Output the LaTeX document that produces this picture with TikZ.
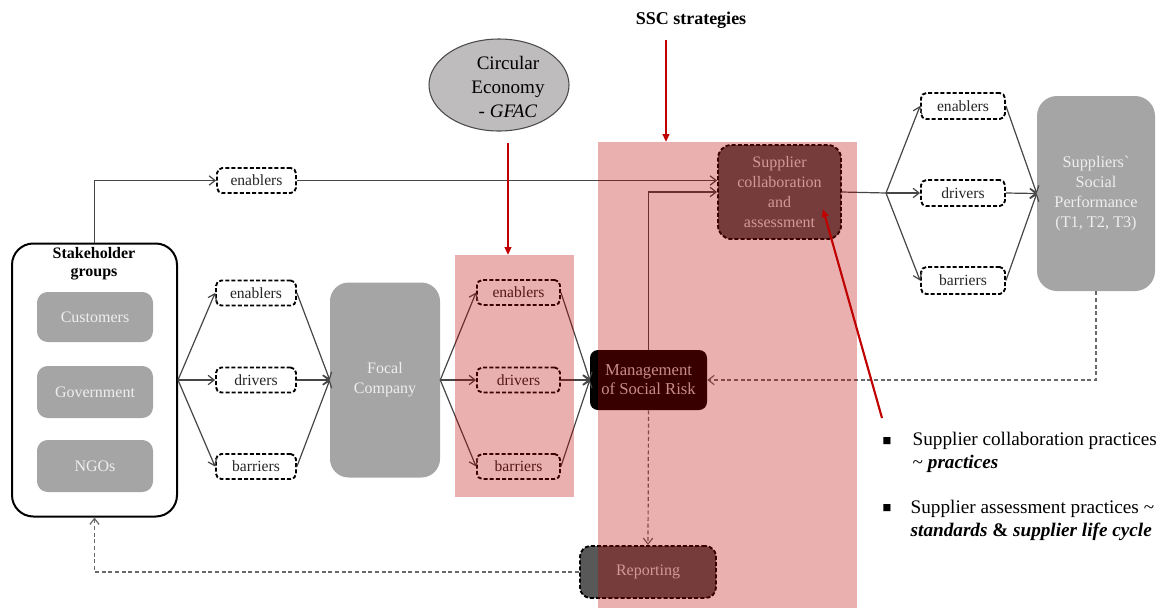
\documentclass[tikz,border=0pt]{standalone}
\usepackage{fontspec}
\setmainfont{Liberation Serif}
\newfontfamily\symfont{DejaVu Sans}
\usetikzlibrary{arrows.meta,shapes.geometric}
\definecolor{boxgray}{RGB}{165,165,165}
\definecolor{boxtext}{RGB}{238,238,238}
\definecolor{darkbox}{RGB}{88,88,88}
\definecolor{lighttext}{RGB}{222,222,222}
\definecolor{linegray}{RGB}{70,70,70}
\definecolor{dashgray}{RGB}{105,105,105}
\definecolor{ovred}{RGB}{187,0,0}
\definecolor{arrred}{RGB}{192,0,0}
\definecolor{ellfill}{RGB}{190,188,188}
\definecolor{elldraw}{RGB}{75,75,75}

\begin{document}
\begin{tikzpicture}[x=0.75pt,y=-0.75pt,
  sz/.style 2 args={minimum width=#1*0.75pt, minimum height=#2*0.75pt},
  dbox/.style={draw=black, line width=1.4pt, dash pattern=on 3pt off 1.6pt,
    rounded corners=4pt, fill=white, inner sep=0pt, text=black!85,
    font=\fontsize{11.7}{14}\selectfont},
  gbox/.style={fill=boxgray, rounded corners=#1, inner sep=0pt, text=boxtext,
    align=center, font=\fontsize{12}{15}\selectfont},
  gbox/.default=8pt,
  darkdash/.style={fill=darkbox, draw=black, line width=1.4pt,
    dash pattern=on 3pt off 1.6pt, rounded corners=#1, inner sep=0pt,
    text=lighttext, align=center, font=\fontsize{12}{15}\selectfont},
  conn/.style={draw=linegray, line width=0.9pt,
    -{Straight Barb[length=4.5pt,width=7pt]}},
  plain/.style={draw=linegray, line width=0.9pt},
  dconn/.style={draw=dashgray, line width=0.9pt, dash pattern=on 3pt off 2pt,
    -{Straight Barb[length=4.5pt,width=7pt]}},
  overlay box/.style={fill=ovred, opacity=0.31},
  redarr/.style={draw=arrred, line width=1.6pt,
    -{Triangle[length=6pt,width=5pt]}},
]
\useasboundingbox (0,0) rectangle (1164,608);

% stakeholder groups
\node[draw=black, line width=1.5pt, rounded corners=16pt, fill=white,
  sz={165}{273}] (stake) at (94.5,380) {};
\node[font=\bfseries\fontsize{12}{13.5}\selectfont, align=center]
  (stakeT) at (94,264) {Stakeholder\\groups};
\node[gbox, sz={116}{50}] (cust) at (95,317) {Customers};
\node[gbox, sz={116}{52}] (gov) at (95,392) {Government};
\node[gbox, sz={116}{52}] (ngo) at (95,466) {NGOs};

% enabler / driver / barrier boxes
\node[dbox, sz={79}{25}] (enT) at (256.5,180.5) {enablers};
\node[dbox, sz={80}{25}] (enL) at (256,293) {enablers};
\node[dbox, sz={80}{25}] (drL) at (256,380) {drivers};
\node[dbox, sz={80}{25}] (baL) at (256,466.5) {barriers};

\node[gbox=14pt, sz={110}{195}] (focal) at (385,380) {Focal\\Company};

\node[dbox, sz={83}{25}] (enM) at (518.5,292.5) {enablers};
\node[dbox, sz={83}{25}] (drM) at (518.5,380) {drivers};
\node[dbox, sz={83}{25}] (baM) at (518.5,466.5) {barriers};

\node[fill=black, rounded corners=6pt, inner sep=0pt, sz={117}{60},
  text={rgb,255:red,205;green,205;blue,205}, align=center,
  font=\fontsize{12.5}{14.3}\selectfont] (mgmt) at (648.5,380)
  {Management\\of Social Risk};

\node[darkdash=10pt, sz={123}{94}] (supc) at (779.5,192)
  {Supplier\\collaboration\\and\\assessment};

\node[dbox, sz={84}{26}] (enR) at (963,106) {enablers};
\node[dbox, sz={84}{26}] (drR) at (963,193) {drivers};
\node[dbox, sz={84}{27}] (baR) at (963,280.5) {barriers};

\node[gbox=15pt, sz={118}{195}, font=\fontsize{12.2}{14.8}\selectfont]
  (ssp) at (1096,193.5)
  {Suppliers\textasciigrave\\Social\\Performance\\(T1, T2, T3)};

\node[darkdash=8pt, sz={136}{52}] (rep) at (648,572) {Reporting};

% circular economy
\node[ellipse, fill=ellfill, draw=elldraw, line width=0.8pt, inner sep=0pt,
  sz={140}{92}] (ce) at (499,85) {};
\node[align=center, font=\fontsize{14.3}{18}\selectfont] (ceT) at (508,87)
  {Circular\\Economy\\- \textit{GFAC}};

\node[font=\bfseries\fontsize{13.5}{16}\selectfont] (ssc) at (691,20)
  {SSC strategies};

% connectors
\draw[conn] (stake.north) |- (enT.west);
\draw[conn] (enT.east) -- (enT.east -| supc.west);
\foreach \b in {enL,drL,baL} {
  \draw[conn] (stake.east) -- (\b.west);
  \draw[conn] (\b.east) -- (focal.west);
}
\foreach \b in {enM,drM,baM} {
  \draw[conn] (focal.east) -- (\b.west);
  \draw[conn] (\b.east) -- (mgmt.west);
}
\draw[conn] (mgmt.north) |- (supc.west);
\coordinate (fanR) at (886,193);
\draw[plain] (supc.east) -- (fanR);
\foreach \b in {enR,drR,baR} {
  \draw[conn] (fanR) -- (\b.west);
  \draw[conn] (\b.east) -- (ssp.west);
}
\draw[dconn] (ssp.south) |- (mgmt.east);
\draw[dconn] (mgmt.south) -- (rep.north);
\draw[dconn] (rep.west) -| (stake.south);

% translucent strategy bands
\fill[overlay box] (455,255) rectangle (574,497);
\fill[overlay box] (598,142) rectangle (857,608);

% red pointers
\coordinate (sscA) at (666,40);
\coordinate (bandTop) at (666,142);
\draw[redarr] (sscA) -- (bandTop);
\coordinate (ceA) at (508,143);
\coordinate (smallBandTop) at (508,255);
\draw[redarr] (ceA) -- (smallBandTop);
\coordinate (noteA) at (882,418);
\coordinate (supcPt) at (823,209);
\draw[redarr] (noteA) -- (supcPt);

% practice notes
\node[font=\symfont\fontsize{7}{7}\selectfont] (sq1) at (887,441) {■};
\node[font=\symfont\fontsize{7}{7}\selectfont] (sq2) at (887,508) {■};
\node[anchor=west, align=left, font=\fontsize{14.4}{17.25}\selectfont]
  (b1) at (908,452)
  {Supplier collaboration practices\\\textasciitilde{} \textbf{\textit{practices}}};
\node[anchor=west, align=left, font=\fontsize{14.4}{17.25}\selectfont]
  (b2) at (906,520)
  {Supplier assessment practices \textasciitilde\\\textbf{\textit{standards} \& \textit{supplier life cycle}}};
\end{tikzpicture}
\end{document}
